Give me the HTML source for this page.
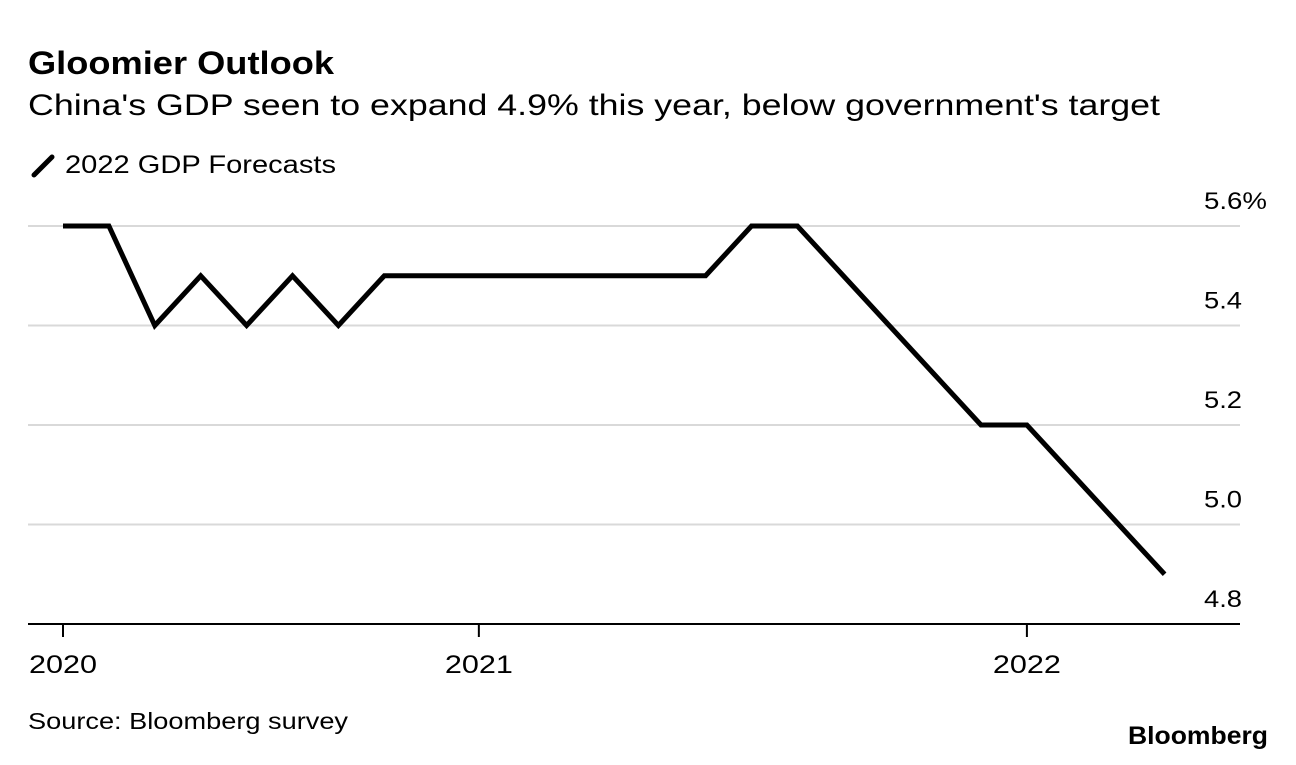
<!DOCTYPE html>
<html><head><meta charset="utf-8">
<style>
body{margin:0;width:1296px;height:760px;background:#fff;font-family:"Liberation Sans",Arial,sans-serif;overflow:hidden}
svg text{font-family:"Liberation Sans",Arial,sans-serif}
</style></head>
<body>
<svg width="1296" height="760" id="c">
<text x="28" y="74" font-size="32" font-weight="bold" fill="#000" textLength="306" lengthAdjust="spacingAndGlyphs">Gloomier Outlook</text>
<text x="28" y="115" font-size="30" fill="#000" textLength="1132" lengthAdjust="spacingAndGlyphs">China's GDP seen to expand 4.9% this year, below government's target</text>
<g>
<line x1="34" y1="175" x2="52" y2="157" stroke="#000" stroke-width="5" stroke-linecap="round"/>
<text x="65" y="173" font-size="25" fill="#000" textLength="271" lengthAdjust="spacingAndGlyphs">2022 GDP Forecasts</text>
</g>
<text x="28" y="729" font-size="23" fill="#000" textLength="320" lengthAdjust="spacingAndGlyphs">Source: Bloomberg survey</text>
<text x="1268" y="744" font-size="25" font-weight="bold" text-anchor="end" fill="#000" textLength="140" lengthAdjust="spacingAndGlyphs">Bloomberg</text>
<g id="grid"></g><g id="plot"></g>
</svg>
<script>
const values=[5.6,5.6,5.4,5.5,5.4,5.5,5.4,5.5,5.5,5.5,5.5,5.5,5.5,5.5,5.5,5.6,5.6,5.5,5.4,5.3,5.2,5.2,5.1,5.0,4.9];
const yTicks=[5.6,5.4,5.2,5.0,4.8];
const yTickLabels=["5.6%","5.4","5.2","5.0","4.8"];
const xTickPos=[0,9.06,21];
const xTickLabels=["2020","2021","2022"];
const NS="http://www.w3.org/2000/svg";
const xs=i=>63+i*45.9;
const ys=v=>226+(5.6-v)/0.2*99.5;
const grid=document.getElementById('grid'),plot=document.getElementById('plot');
function mk(tag,attrs,parent){const e=document.createElementNS(NS,tag);for(const k in attrs)e.setAttribute(k,attrs[k]);parent.appendChild(e);return e;}
yTicks.forEach((t,i)=>{
  if(i<yTicks.length-1){const l=mk('line',{x1:28,x2:1240,y1:ys(t),y2:ys(t),stroke:'#d9d9d9','stroke-width':2},grid);
  
  }
  const lab=yTickLabels[i];
  const tx=mk('text',{x:1204,y:ys(t)-17,'font-size':24,fill:'#000',textLength:lab.length>3?63:38,lengthAdjust:'spacingAndGlyphs'},grid);
  tx.textContent=lab;
  
  
});
const ax=mk('line',{x1:28,x2:1240,y1:624,y2:624,stroke:'#000','stroke-width':2},grid);


xTickPos.forEach((p,i)=>{
  const t=mk('line',{x1:xs(p),x2:xs(p),y1:624,y2:637,stroke:'#000','stroke-width':2},grid);
  
  
  const tx=mk('text',{x:xs(p),y:673,'font-size':25,'text-anchor':'middle',fill:'#000',textLength:68,lengthAdjust:'spacingAndGlyphs'},grid);
  tx.textContent=xTickLabels[i];
  
  
});
const pl=mk('polyline',{points:values.map((v,i)=>xs(i)+','+ys(v)).join(' '),fill:'none',stroke:'#000','stroke-width':5,'stroke-linejoin':'miter'},plot);


</script>
</body></html>
